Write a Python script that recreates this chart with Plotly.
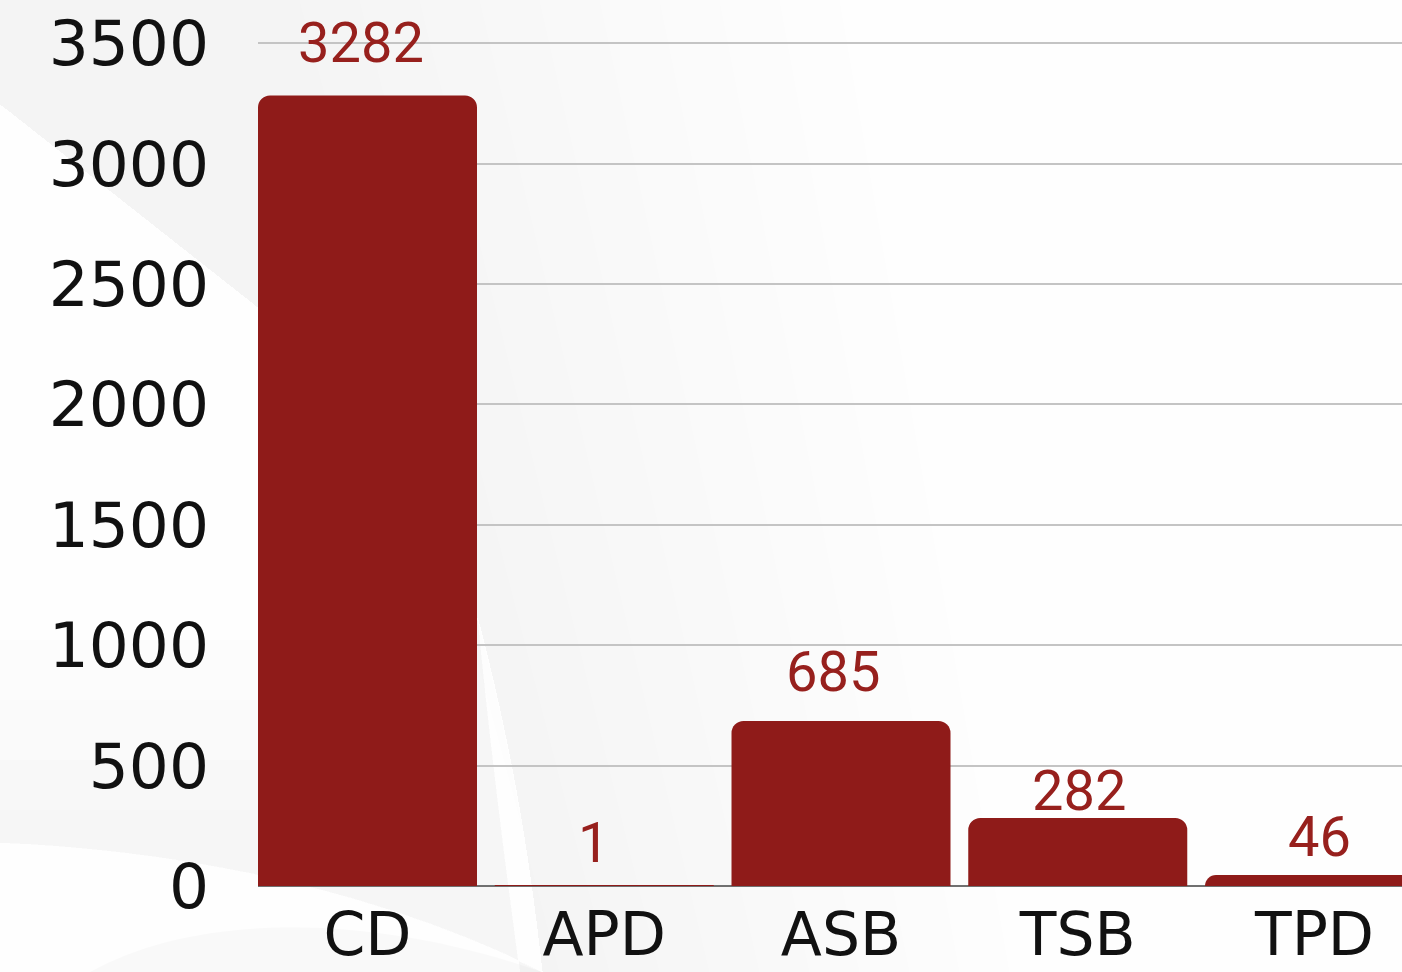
import plotly.graph_objects as go

# Data
categories = ["CD", "APD", "ASB", "TSB", "TPD"]
counts = [3282, 1, 685, 282, 46]
y_ticks = [0, 500, 1000, 1500, 2000, 2500, 3000, 3500]

BAR_RED = "#8f1b19"
LABEL_RED = "#97201d"

W, H = 1402, 972
M_L, M_R, M_T, M_B = 258, 0, 19, 86
PW, PH = W - M_L - M_R, H - M_T - M_B

# Fine placement of the value labels (pixel nudges)
label_dy = [18, 8, 14, -8, 3]
label_dx = [-7, -11, -8, 1, 5]


def px_to_paper(px, py):
    """Convert page pixel coordinates to plot paper coordinates."""
    return (px - M_L) / PW, (H - M_B - py) / PH


def path_from_pixels(points):
    """Build an SVG path in paper units; one command per segment."""
    step = {"M": 1, "L": 1, "C": 3}
    parts = []
    for cmd, pts in points:
        n = step[cmd]
        for i in range(0, len(pts), n):
            coords = " ".join(
                "{:.4f},{:.4f}".format(*px_to_paper(x, y)) for x, y in pts[i:i + n]
            )
            parts.append(f"{cmd} {coords}")
    return " ".join(parts) + " Z"


def add_bg_path(points, color):
    fig.add_shape(
        type="path",
        path=path_from_pixels(points),
        xref="paper",
        yref="paper",
        fillcolor=color,
        line=dict(width=0),
        layer="below",
    )


fig = go.Figure()

fig.add_trace(
    go.Bar(
        x=categories,
        y=counts,
        marker=dict(color=BAR_RED, cornerradius=12, line=dict(width=0)),
        hoverinfo="x+y",
    )
)

# Value labels above each bar
for cat, val, dy, dx in zip(categories, counts, label_dy, label_dx):
    fig.add_annotation(
        x=cat,
        y=val,
        text=str(val),
        showarrow=False,
        yanchor="bottom",
        yshift=dy,
        xshift=dx,
        font=dict(family="Roboto", size=56, color=LABEL_RED),
    )

# Soft grey blade sweeping across the background, fading out to the right
for k in range(10):
    right_top = 300 + 60 * k
    right_bottom = 560 + 50 * k
    add_bg_path(
        [
            ("M", [(0, 0)]),
            ("L", [(0, 105), (260, 310), (478, 620)]),
            ("C", [(515, 760), (532, 880), (542, 972)]),
            ("L", [(right_bottom, 972), (right_top, 0)]),
        ],
        "rgba(0,0,0,0.0042)",
    )

# Faint shading above the lower-left white sweep
for top in (640, 700, 760, 810):
    add_bg_path(
        [
            ("M", [(0, top)]),
            ("L", [(0, 843)]),
            ("C", [(180, 850), (380, 890), (542, 972)]),
            ("L", [(520, 972)]),
            ("C", [(505, 860), (492, 760), (478, 620)]),
            ("L", [(300, top)]),
        ],
        "rgba(0,0,0,0.006)",
    )

# Grey tail below the sweep in the bottom-left corner
add_bg_path(
    [
        ("M", [(90, 972)]),
        ("C", [(200, 910), (380, 915), (542, 972)]),
    ],
    "rgba(0,0,0,0.018)",
)

fig.update_layout(
    width=W,
    height=H,
    margin=dict(l=M_L, r=M_R, t=M_T, b=M_B, pad=0, autoexpand=False),
    paper_bgcolor="#fefefe",
    plot_bgcolor="rgba(0,0,0,0)",
    bargap=0.075,
    showlegend=False,
    font=dict(family="DejaVu Sans", color="#111111"),
)

fig.update_xaxes(
    range=[-0.4625, 4.3695],
    showgrid=False,
    showline=False,
    ticks="",
    tickfont=dict(family="DejaVu Sans", size=60, color="#111111"),
    ticklabelstandoff=8,
    automargin=False,
    fixedrange=True,
)

fig.update_yaxes(
    range=[0, 3600],
    tickvals=y_ticks,
    ticktext=[str(v) for v in y_ticks],
    showgrid=True,
    gridcolor="#c4c4c4",
    gridwidth=2,
    zeroline=True,
    zerolinecolor="#707070",
    zerolinewidth=2,
    showline=False,
    ticks="",
    tickfont=dict(family="DejaVu Sans", size=63, color="#111111"),
    ticklabelstandoff=48,
    automargin=False,
    fixedrange=True,
)

fig.write_html("out.html")
